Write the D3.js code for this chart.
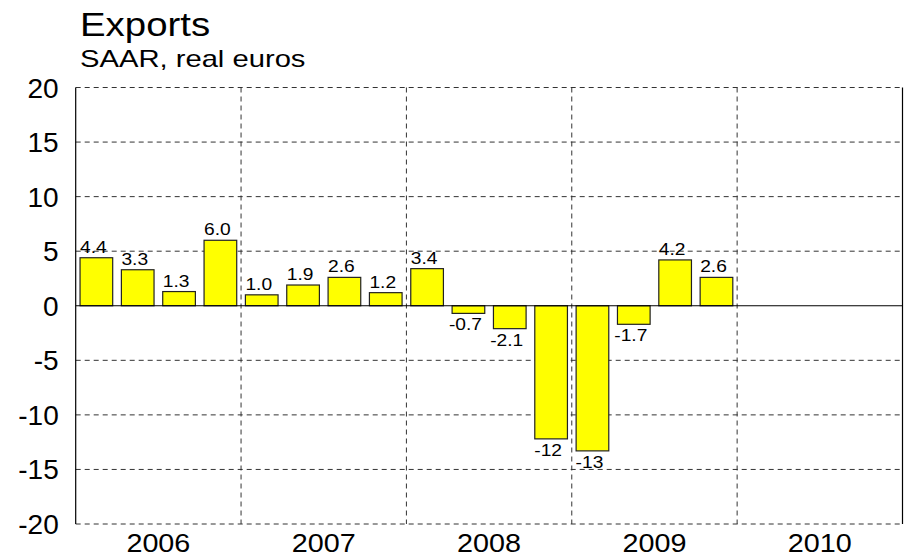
<!DOCTYPE html>
<html>
<head>
<meta charset="utf-8">
<script src="https://cdn.jsdelivr.net/npm/d3@7"></script>
<style>
  html, body { margin: 0; padding: 0; background: #fff; }
  svg { display: block; }
  text { font-family: "Liberation Sans", Arial, sans-serif; fill: #000; }
</style>
</head>
<body>
<svg id="chart" width="907" height="560"></svg>
<script>
// ---- data ----
const years = ["2006", "2007", "2008", "2009", "2010"];
const quarters = ["Q1", "Q2", "Q3", "Q4"];
const values = [4.4, 3.3, 1.3, 6.0, 1.0, 1.9, 2.6, 1.2, 3.4, -0.7, -2.1, -12.2, -13.3, -1.7, 4.2, 2.6];
const yTicks = [-20, -15, -10, -5, 0, 5, 10, 15, 20];
const title = "Exports";
const subtitle = "SAAR, real euros";

// ---- layout ----
const plot = { left: 75.7, right: 902.5, top: 87.5, bottom: 524 };
const svg = d3.select("#chart");

const periods = [];
years.forEach(y => quarters.forEach(q => periods.push(y + q)));
const data = values.map((v, i) => ({ period: periods[i], value: v }));

const x = d3.scaleBand().domain(periods).range([plot.left, plot.right])
  .paddingInner(0.21).paddingOuter(0.105);
const xYear = d3.scaleBand().domain(years).range([plot.left, plot.right]).padding(0);
const y = d3.scaleLinear().domain([-20, 20]).range([plot.bottom, plot.top]);

function stretchedText(g, xPos, yPos, txt, size, sx, anchor) {
  return g.append("text")
    .attr("transform", `translate(${xPos},${yPos}) scale(${sx},1)`)
    .attr("text-anchor", anchor || "start")
    .style("font-size", size + "px")
    .text(txt);
}
const hyphen = s => s.replace(/\u2212/g, "-");

// grid lines (dashed)
const grid = svg.append("g");
grid.selectAll("line.h").data(yTicks.filter(t => t !== 0)).join("line")
  .attr("x1", plot.left).attr("x2", plot.right)
  .attr("y1", d => y(d)).attr("y2", d => y(d))
  .attr("stroke", "#333").attr("stroke-width", 1)
  .attr("stroke-dasharray", "5,4");
grid.selectAll("line.v").data(years.slice(1)).join("line")
  .attr("x1", d => xYear(d)).attr("x2", d => xYear(d))
  .attr("y1", plot.top).attr("y2", plot.bottom)
  .attr("stroke", "#333").attr("stroke-width", 1)
  .attr("stroke-dasharray", "5,4");

// bars
svg.append("g").selectAll("rect").data(data).join("rect")
  .attr("x", d => x(d.period))
  .attr("width", x.bandwidth())
  .attr("y", d => y(Math.max(0, d.value)))
  .attr("height", d => Math.abs(y(d.value) - y(0)))
  .attr("fill", "#ffff00")
  .attr("stroke", "#222")
  .attr("stroke-width", 1.2);

// zero line
svg.append("line")
  .attr("x1", plot.left).attr("x2", plot.right)
  .attr("y1", y(0)).attr("y2", y(0))
  .attr("stroke", "#000").attr("stroke-width", 1.2);

// left and right borders
svg.append("line").attr("x1", plot.left).attr("x2", plot.left)
  .attr("y1", plot.top).attr("y2", plot.bottom).attr("stroke", "#000").attr("stroke-width", 1.2);
svg.append("line").attr("x1", plot.right).attr("x2", plot.right)
  .attr("y1", plot.top).attr("y2", plot.bottom).attr("stroke", "#000").attr("stroke-width", 1.2);

// bar value labels
const fmt = v => hyphen(Math.abs(v) >= 10 ? d3.format(".0f")(v) : d3.format(".1f")(v));
const lab = svg.append("g");
data.forEach(d => {
  const cx = x(d.period) + x.bandwidth() / 2 - 3;
  const yy = d.value >= 0 ? y(d.value) - 5 : y(d.value) + 17;
  stretchedText(lab, cx, yy, fmt(d.value), 16, 1.2, "middle");
});

// y axis tick labels
const yAxis = d3.axisLeft(y).tickValues(yTicks).tickSize(0).tickPadding(0)
  .tickFormat(d => hyphen(d3.format("d")(d)));
const yg = svg.append("g").attr("transform", `translate(${plot.left - 17},0)`).call(yAxis);
yg.select(".domain").remove();
yg.selectAll("text").style("font-size", "28px")
  .style("font-family", '"Liberation Sans", Arial, sans-serif')
  .attr("fill", "#000").attr("dy", "0.34em");

// x axis (year labels)
const xg = svg.append("g");
years.forEach(yr => {
  stretchedText(xg, xYear(yr) + xYear.bandwidth() / 2, 551.5, yr, 25, 1.15, "middle");
});

// titles
stretchedText(svg, 80, 36, title, 34, 1.13, "start");
stretchedText(svg, 80, 66.5, subtitle, 23, 1.27, "start");
</script>
</body>
</html>
